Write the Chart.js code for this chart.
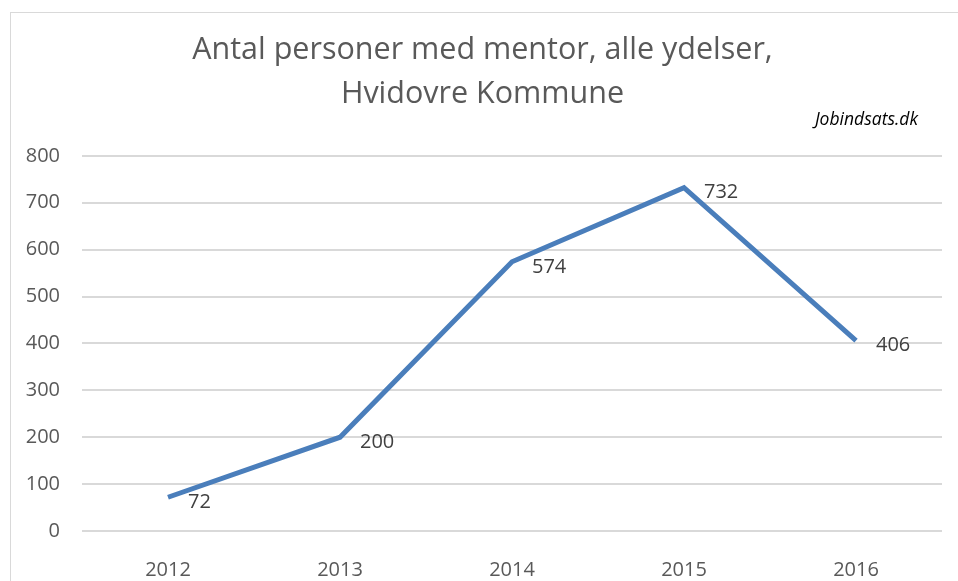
<!DOCTYPE html>
<html>
<head>
<meta charset="utf-8">
<script src="https://cdn.jsdelivr.net/npm/chart.js@4"></script>
<style>
  html, body { margin: 0; padding: 0; background: #fff; }
  #wrap { position: relative; width: 958px; height: 581px; }
  #frame { position: absolute; left: 10px; top: 12px; width: 960px; height: 600px; border: 1px solid #d9d9d9; }
  #source { position: absolute; right: 40px; top: 106px; font: italic 17.5px "Open Sans", sans-serif; color: #000; }
</style>
</head>
<body>
<div id="wrap">
  <div id="frame"></div>
  <canvas id="chart" width="958" height="581"></canvas>
  <div id="source">Jobindsats.dk</div>
</div>
<script>
const years = ["2012", "2013", "2014", "2015", "2016"];
const persons = [72, 200, 574, 732, 406];
const titleLines = ["Antal personer med mentor, alle ydelser,", "Hvidovre Kommune"];

// value labels to the right of each point, like the Excel data labels
const valueLabels = {
  id: "valueLabels",
  afterDatasetsDraw(chart) {
    const ctx = chart.ctx;
    const meta = chart.getDatasetMeta(0);
    ctx.save();
    ctx.font = '20px "Open Sans", sans-serif';
    ctx.fillStyle = "#404040";
    ctx.textAlign = "left";
    ctx.textBaseline = "middle";
    meta.data.forEach((pt, i) => {
      ctx.fillText(String(persons[i]), pt.x + 20, pt.y + 5);
    });
    ctx.restore();
  },
};

const ctx = document.getElementById("chart");

new Chart(ctx, {
  type: "line",
  data: {
    labels: years,
    datasets: [
      {
        label: "Antal",
        data: persons,
        borderColor: "#4a7ebb",
        borderWidth: 5,
        pointRadius: 0,
        tension: 0,
        fill: false,
      },
    ],
  },
  options: {
    responsive: false,
    animation: false,
    layout: { padding: { left: 23, right: 16, top: 28, bottom: 0 } },
    plugins: {
      legend: { display: false },
      tooltip: { enabled: false },
      title: {
        display: true,
        text: titleLines,
        color: "#595959",
        font: { family: "Open Sans", size: 30.5, weight: "400", lineHeight: 1.44 },
        padding: { top: 0, bottom: 40 },
      },
    },
    scales: {
      x: {
        offset: true,
        grid: { display: false, drawTicks: false },
        border: { display: false },
        ticks: { color: "#595959", font: { family: "Open Sans", size: 20 }, padding: 27 },
        afterFit(scale) {
          scale.height = 50;
        },
      },
      y: {
        min: 0,
        max: 800,
        ticks: { stepSize: 100, color: "#595959", font: { family: "Open Sans", size: 20 }, padding: 22 },
        grid: { color: "#d9d9d9", lineWidth: 2, drawTicks: false },
        border: { display: false },
        afterFit(scale) {
          scale.width = 59;
        },
      },
    },
  },
  plugins: [valueLabels],
});
</script>
</body>
</html>
